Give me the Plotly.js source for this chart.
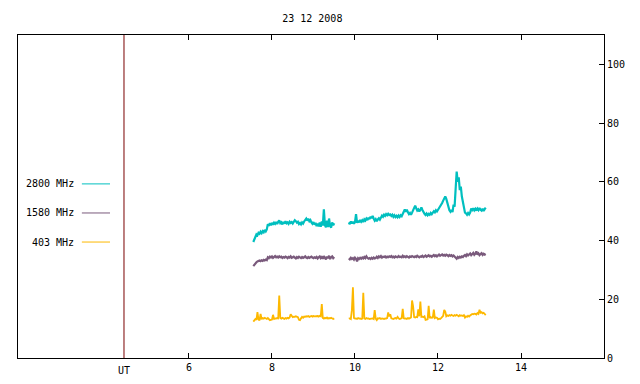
<!DOCTYPE html>
<html>
<head>
<meta charset="utf-8">
<script src="https://cdn.plot.ly/plotly-3.0.1.min.js"></script>
<style>html,body{margin:0;padding:0;background:#fff;}#chart{width:640px;height:384px;}</style>
</head>
<body>
<div id="chart"></div>
<script>
// ---- data ----
const title = "23 12 2008";
const seriesNames = ["2800 MHz", "1580 MHz", "403 MHz"];
const seriesColors = ["#00bfbf", "#7a5a7c", "#fdb800"];
const utTime = 4.434;         // red marker line (UT)
const xTickVals = [6, 8, 10, 12, 14];
const xTickText = ["6", "8", "10", "12", "14"];
const yTickVals = [0, 20, 40, 60, 80, 100];

// sample times: segment 1 starts 7.55 h, segment 2 starts 9.85 h, 0.025 h sampling
const seg1Start = 7.55, seg2Start = 9.85, sampleStep = 0.025;

const f2800_seg1 = [39.5,40.6,41.2,42.1,41.8,42.6,42.3,43.0,42.5,43.2,
  42.8,43.6,43.1,43.8,45.6,45.0,45.9,45.2,46.0,45.4,
  46.1,45.7,46.3,45.6,46.4,46.9,45.9,46.2,45.5,46.3,
  45.8,46.6,45.9,46.2,45.7,46.4,46.0,46.3,45.8,46.5,
  46.9,46.6,46.1,46.4,45.6,46.0,45.5,46.2,45.8,46.5,
  46.9,47.5,46.8,47.4,46.6,47.0,46.2,45.7,46.3,45.4,
  46.0,44.9,45.8,44.8,46.1,44.7,46.5,45.1,50.6,45.3,
  44.5,46.8,44.6,47.5,45.0,44.4,46.2,45.2,45.9];
const f2800_seg2 = [46.2,45.6,46.5,45.8,46.4,45.7,46.3,49.0,46.0,46.8,
  46.2,47.0,46.4,46.9,46.3,47.2,46.8,47.5,47.0,47.8,
  47.3,48.1,47.6,48.4,47.5,46.8,47.3,46.6,47.2,47.6,
  47.1,47.9,48.5,48.1,48.8,48.4,49.0,48.6,49.1,48.7,
  48.9,48.4,48.8,48.1,48.6,48.0,48.4,47.9,48.5,48.0,
  48.6,48.3,49.2,50.1,50.6,49.8,50.5,49.6,49.0,49.4,
  48.8,49.5,50.3,51.2,51.9,51.0,50.2,50.6,49.9,50.5,
  51.3,50.4,49.6,49.1,48.7,49.2,48.6,49.1,48.8,49.4,
  49.0,49.6,50.0,49.6,50.3,49.9,50.4,50.9,51.5,52.0,
  52.8,53.6,54.5,55.0,54.2,52.6,51.5,50.3,49.8,50.4,
  49.7,52.2,51.5,58.5,63.5,60.0,61.5,57.2,58.4,55.0,
  52.8,50.6,49.5,49.3,48.8,49.4,48.9,49.5,50.9,50.4,
  51.0,50.3,50.8,50.2,50.9,50.4,51.1,50.5,50.2,50.8,
  50.1,50.7,51.2];

const f1580_seg1 = [31.3,31.9,32.4,32.6,32.9,33.0,33.2,33.0,33.3,33.1,
  33.4,33.2,33.5,33.3,34.3,34.0,34.5,34.2,34.6,34.1,
  34.4,34.7,34.3,34.5,34.2,34.6,34.3,34.5,34.1,34.4,
  34.2,34.5,34.3,34.0,34.4,34.2,34.6,34.1,34.3,34.5,
  34.2,33.9,34.4,34.1,34.5,34.2,34.0,34.4,34.1,34.3,
  34.6,34.2,34.0,34.4,34.1,34.3,34.5,34.2,34.0,34.3,
  34.1,34.4,33.9,34.3,34.6,34.0,34.4,33.8,34.7,34.1,
  33.6,34.5,34.0,34.8,33.7,34.3,34.6,34.0,34.4];
const f1580_seg2 = [33.9,33.6,34.1,33.7,34.0,33.5,34.2,33.8,32.9,34.0,
  33.7,34.1,33.8,34.2,33.9,34.4,34.0,34.6,34.1,33.8,
  34.0,33.7,34.1,33.8,34.2,33.9,34.0,34.5,34.1,34.6,
  34.3,34.7,34.2,34.5,34.4,34.6,34.2,34.5,34.3,34.6,
  34.4,34.7,34.3,34.5,34.2,34.6,34.4,34.3,34.7,34.4,
  34.5,34.3,34.8,34.4,34.6,34.3,34.7,34.5,34.2,34.6,
  34.4,34.7,34.5,34.3,34.6,34.4,34.8,34.5,34.3,34.6,
  34.5,34.8,34.4,34.6,34.9,34.5,34.7,35.0,34.6,34.8,
  34.5,34.9,35.1,34.7,35.0,34.6,34.9,35.2,34.8,35.0,
  35.3,34.9,35.1,34.8,35.2,35.0,34.7,35.1,34.8,35.0,
  34.6,34.9,34.5,34.3,33.8,34.4,34.1,34.5,34.2,34.6,
  34.4,34.8,35.1,34.7,35.3,34.9,35.2,35.6,35.0,35.4,
  35.8,35.1,35.5,36.3,35.2,35.6,35.0,35.4,35.7,35.1,
  35.5,35.2,35.4];

const f403_seg1 = [12.4,12.9,13.3,13.0,15.6,13.1,12.8,15.0,13.2,13.6,
  13.4,13.7,13.5,13.3,13.6,13.2,12.9,13.0,13.1,14.7,
  13.3,13.5,13.4,13.6,13.5,21.3,13.6,13.4,13.7,13.5,
  13.3,13.6,13.4,13.7,13.5,13.8,14.9,14.4,13.9,14.1,
  14.0,14.2,14.1,13.9,13.0,12.9,13.5,14.0,13.7,14.1,
  14.0,14.2,14.1,14.3,14.0,14.2,14.3,14.1,14.3,14.2,
  14.3,14.2,14.3,14.1,14.4,14.2,18.4,13.6,13.4,13.7,
  13.5,13.8,13.4,13.6,13.5,13.7,13.4,13.3,13.5];
const f403_seg2 = [13.4,13.5,13.3,16.3,24.1,13.6,13.4,13.5,13.3,13.6,
  13.4,13.5,13.3,13.4,22.2,13.5,13.3,13.6,13.4,13.5,
  13.3,13.4,13.6,13.5,13.3,16.3,13.4,12.9,13.5,13.4,
  13.6,13.3,13.5,13.4,13.3,13.5,13.4,13.6,15.5,14.2,
  14.9,13.5,13.4,13.3,13.5,13.6,13.4,14.0,13.5,13.3,
  13.4,13.6,16.7,13.5,13.4,13.5,13.3,13.6,13.4,13.7,
  13.8,19.6,17.7,13.9,13.8,14.0,13.9,16.6,14.2,19.2,
  14.0,14.1,13.9,14.2,13.0,13.1,13.2,17.8,13.6,13.9,
  13.7,13.8,16.5,13.6,13.8,13.7,13.2,13.4,13.3,13.6,
  13.9,14.4,16.4,15.8,14.2,14.5,14.3,14.6,14.4,14.7,
  14.5,14.3,14.6,14.4,14.7,14.5,14.2,14.6,14.4,14.5,
  14.3,14.6,13.8,14.2,14.0,14.4,14.1,14.5,14.8,15.0,
  14.9,15.1,15.0,14.8,15.3,15.0,16.4,15.4,15.6,15.2,
  15.4,15.1,14.6];

// ---- build ----
function sampleTimes(t0, n) {
  const out = [];
  for (let i = 0; i < n; i++) out.push(+(t0 + i * sampleStep).toFixed(4));
  return out;
}
function joinSegments(a, b) {
  return {
    x: sampleTimes(seg1Start, a.length).concat([null], sampleTimes(seg2Start, b.length)),
    y: a.concat([null], b)
  };
}
const seriesData = [
  joinSegments(f2800_seg1, f2800_seg2),
  joinSegments(f1580_seg1, f1580_seg2),
  joinSegments(f403_seg1, f403_seg2)
];
const seriesWidths = [2.2, 2.2, 1.8];

const traces = seriesData.map((d, i) => ({
  type: "scatter", mode: "lines", x: d.x, y: d.y, name: seriesNames[i],
  connectgaps: false, line: {color: seriesColors[i], width: seriesWidths[i]}, showlegend: false,
  hoverinfo: "skip"
}));

const font = {family: "DejaVu Sans Mono, monospace", size: 10, color: "#000"};

// custom gnuplot-style key: label on left, sample line on right
const keyY = [0.539, 0.449, 0.359];
const annotations = seriesNames.map((n, i) => ({
  xref: "paper", yref: "paper", x: 0.099, y: keyY[i], text: n, showarrow: false,
  xanchor: "right", yanchor: "middle", font: font
}));
annotations.push({
  xref: "x", yref: "paper", x: utTime, y: 0, yshift: -12, text: "UT", showarrow: false,
  xanchor: "center", yanchor: "middle", font: font
});
const shapes = seriesNames.map((n, i) => ({
  type: "line", xref: "paper", yref: "paper", x0: 0.109, x1: 0.157, y0: keyY[i], y1: keyY[i],
  line: {color: seriesColors[i], width: 1}
}));
shapes.push({
  type: "line", xref: "x", yref: "paper", x0: utTime, x1: utTime, y0: 0, y1: 1,
  line: {color: "#7a0000", width: 1}, layer: "above"
});

const layout = {
  width: 640, height: 384,
  margin: {l: 18, r: 36, t: 35, b: 26, pad: 0},
  paper_bgcolor: "#fff", plot_bgcolor: "#fff",
  font: font,
  title: {text: title, x: 0.488, xanchor: "center", y: 0.953, yanchor: "middle", font: font},
  xaxis: {
    range: [1.88, 16.0], tickvals: xTickVals, ticktext: xTickText,
    ticks: "inside", ticklen: 5, tickcolor: "#000", tickwidth: 1,
    showline: true, linecolor: "#000", linewidth: 1, mirror: "ticks",
    showgrid: false, zeroline: false, tickfont: font
  },
  yaxis: {
    range: [0, 110], tickvals: yTickVals, side: "right",
    ticks: "inside", ticklen: 5, tickcolor: "#000", tickwidth: 1,
    showline: true, linecolor: "#000", linewidth: 1, mirror: true,
    showgrid: false, zeroline: false, tickfont: font
  },
  annotations: annotations,
  shapes: shapes,
  showlegend: false
};

Plotly.newPlot("chart", traces, layout, {staticPlot: true, displayModeBar: false});
</script>
</body>
</html>
